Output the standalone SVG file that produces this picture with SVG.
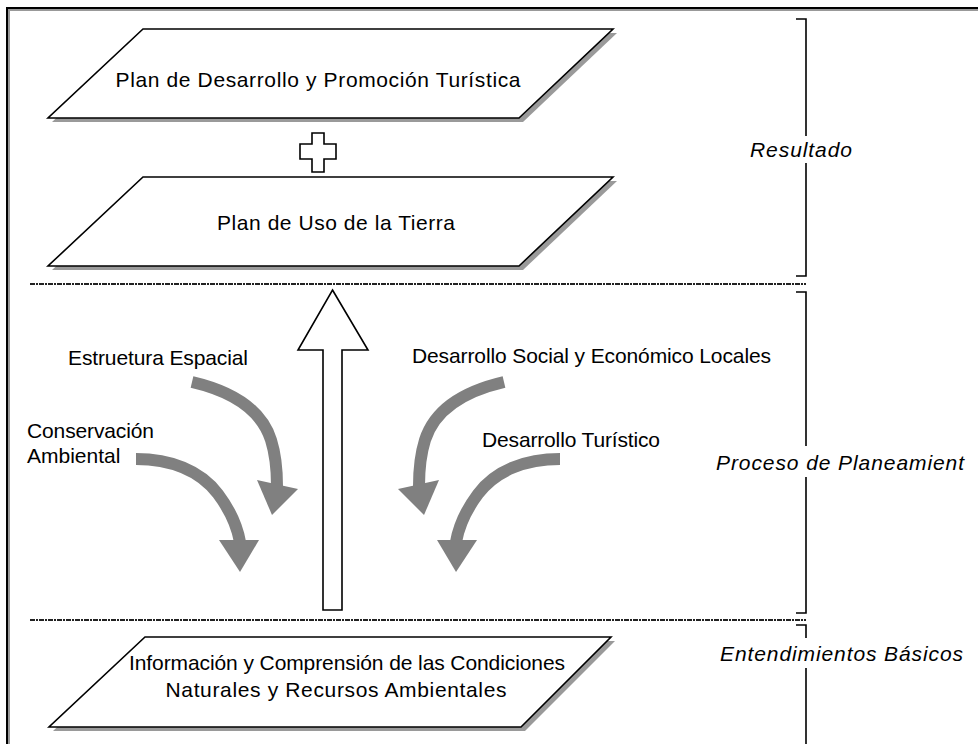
<svg xmlns="http://www.w3.org/2000/svg" width="978" height="744" viewBox="0 0 978 744">
<defs>
<style>
.t{font-family:"Liberation Sans",Arial,sans-serif;font-size:21px;fill:#000}
.it{font-family:"Liberation Sans",Arial,sans-serif;font-size:21px;font-style:italic;fill:#000}
.para{fill:#fff;stroke:#000;stroke-width:1.6}
.shadow{fill:#9a9a9a}
.curve{fill:none;stroke:#808080;stroke-width:12}
.head{fill:#808080}
.brk{fill:none;stroke:#000;stroke-width:1.6}
.dash{stroke:#222;stroke-width:1.8;stroke-dasharray:5 1 2 1}
</style>
</defs>
<rect width="978" height="744" fill="#fff"/>
<g id="frame">
<rect x="9" y="10" width="1000" height="800" fill="none" stroke="#999" stroke-width="2"/>
<rect x="7" y="8" width="1000" height="800" fill="none" stroke="#000" stroke-width="2"/>
</g>
<g id="separators">
<line class="dash" x1="30" y1="284" x2="806" y2="284"/>
<line class="dash" x1="30" y1="620" x2="806" y2="620"/>
</g>
<g id="node-plan-desarrollo">
<polygon class="shadow" points="147,33 617,33 523,122 52,122"/>
<polygon class="para" points="143,29 613,29 519,118 48,118"/>
<text class="t" x="318" y="87" text-anchor="middle" textLength="405" lengthAdjust="spacing">Plan de Desarrollo y Promoción Turística</text>
</g>
<g id="node-plus">
<polygon points="312,133 324,133 324,144 336,144 336,159 324,159 324,172 312,172 312,159 300,159 300,144 312,144" fill="#fff" stroke="#000" stroke-width="1.6"/>
</g>
<g id="node-plan-uso">
<polygon class="shadow" points="147,181 617,181 523,270 52,270"/>
<polygon class="para" points="143,177 613,177 519,266 48,266"/>
<text class="t" x="336" y="230" text-anchor="middle" textLength="238" lengthAdjust="spacing">Plan de Uso de la Tierra</text>
</g>
<g id="node-informacion">
<polygon class="shadow" points="149,641 615,641 525,731 53,731"/>
<polygon class="para" points="145,637 611,637 521,727 49,727"/>
<text class="t" x="347" y="670" text-anchor="middle" textLength="436" lengthAdjust="spacing">Información y Comprensión de las Condiciones</text>
<text class="t" x="336" y="697" text-anchor="middle" textLength="341" lengthAdjust="spacing">Naturales y Recursos Ambientales</text>
</g>
<g id="connectors">
<polygon id="main-arrow" points="332.5,290 368,350 342,350 342,610 323,610 323,350 298,350" fill="#fff" stroke="#000" stroke-width="1.6"/>
<g id="arrow-estructura">
<path class="curve" d="M192,382 C235,392 262,412 271,440 C276,456 277,470 277,486"/>
<polygon class="head" points="257,480 298,489 272,515"/>
</g>
<g id="arrow-conservacion">
<path class="curve" d="M136,459 C170,459 200,470 218,494 C230,510 237,525 240,542"/>
<polygon class="head" points="219,540 259,540 240,572"/>
</g>
<g id="arrow-social">
<path class="curve" d="M504,382 C461,392 434,412 425,440 C420,456 419,470 419,486"/>
<polygon class="head" points="439,480 398,489 424,515"/>
</g>
<g id="arrow-turistico">
<path class="curve" d="M560,459 C526,459 496,470 478,494 C466,510 459,525 456,542"/>
<polygon class="head" points="437,540 477,540 456,572"/>
</g>
</g>
<g id="labels">
<text class="t" x="68" y="365" textLength="180" lengthAdjust="spacing">Estruetura Espacial</text>
<text class="t" x="27" y="438" textLength="127" lengthAdjust="spacing">Conservación</text>
<text class="t" x="27" y="463">Ambiental</text>
<text class="t" x="412" y="363" textLength="359" lengthAdjust="spacing">Desarrollo Social y Económico Locales</text>
<text class="t" x="482" y="447" textLength="178" lengthAdjust="spacing">Desarrollo Turístico</text>
</g>
<g id="bracket-resultado">
<path class="brk" d="M796,19 H806 V276 H796"/>
<rect x="752" y="136" width="98" height="27" fill="#fff"/>
<text class="it" x="750" y="157" textLength="102" lengthAdjust="spacing">Resultado</text>
</g>
<g id="bracket-proceso">
<path class="brk" d="M796,292 H806 V613 H796"/>
<rect x="716" y="446" width="248" height="31" fill="#fff"/>
<text class="it" x="716" y="470" textLength="248" lengthAdjust="spacing">Proceso de Planeamient</text>
</g>
<g id="bracket-entendimientos">
<path class="brk" d="M796,625 H806 V760"/>
<rect x="720" y="638" width="245" height="30" fill="#fff"/>
<text class="it" x="720" y="661" textLength="243" lengthAdjust="spacing">Entendimientos Básicos</text>
</g>
</svg>
